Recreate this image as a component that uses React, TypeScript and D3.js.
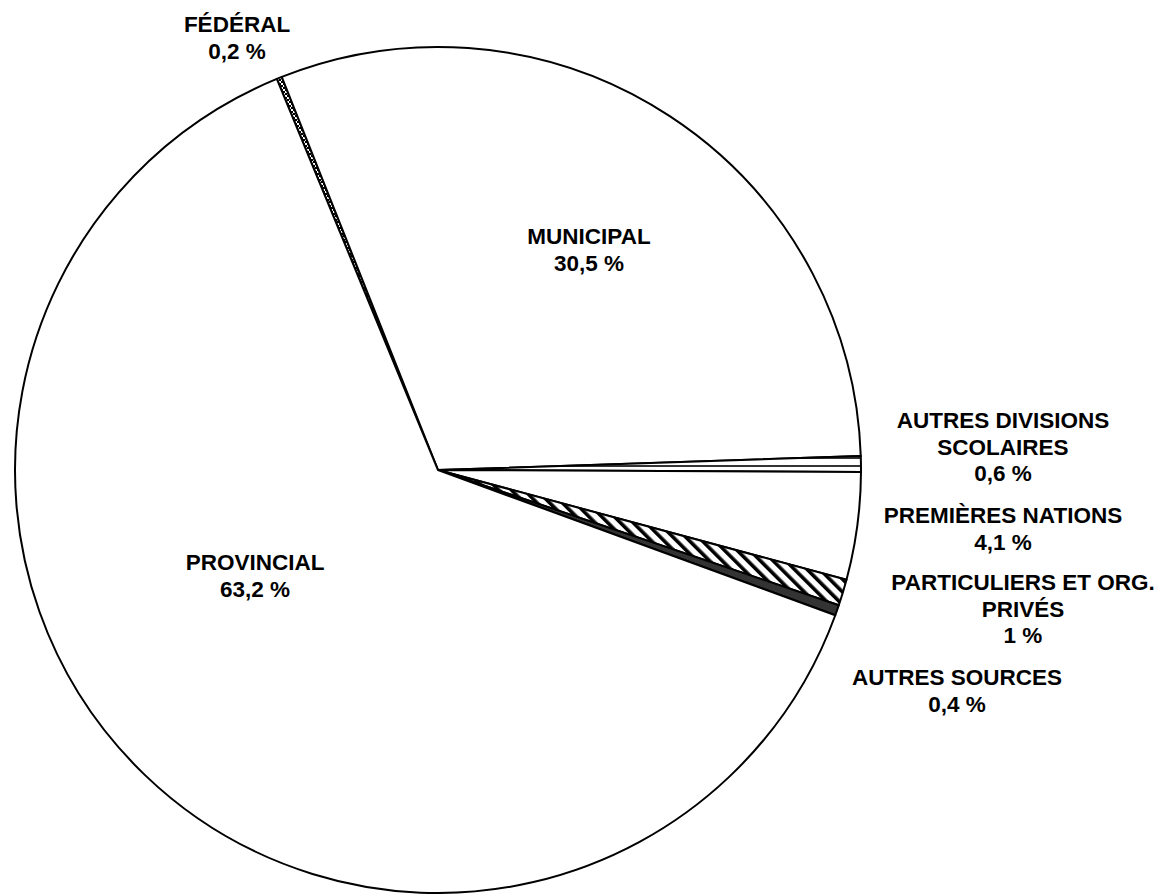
import React from "react";
import * as d3 from "d3";

const categories = [
  "FÉDÉRAL",
  "MUNICIPAL",
  "AUTRES DIVISIONS SCOLAIRES",
  "PREMIÈRES NATIONS",
  "PARTICULIERS ET ORG. PRIVÉS",
  "AUTRES SOURCES",
  "PROVINCIAL",
];
const values = [0.2, 30.5, 0.6, 4.1, 1, 0.4, 63.2];
const valueLabels = ["0,2 %", "30,5 %", "0,6 %", "4,1 %", "1 %", "0,4 %", "63,2 %"];
const labelLines = [
  ["FÉDÉRAL"],
  ["MUNICIPAL"],
  ["AUTRES DIVISIONS", "SCOLAIRES"],
  ["PREMIÈRES NATIONS"],
  ["PARTICULIERS ET ORG.", "PRIVÉS"],
  ["AUTRES SOURCES"],
  ["PROVINCIAL"],
];

// layout (not data)
const W = 1166;
const H = 894;
const CX = 438;
const CY = 470;
const R = 423;
const START_DEG = -22.4;
const FILLS = [
  "url(#pFed)",
  "#ffffff",
  "url(#pHoriz)",
  "#ffffff",
  "url(#pDiag)",
  "#333333",
  "#ffffff",
];
const LABEL_OFFSETS: [number, number][] = [
  [-201, -438],
  [151, -226],
  [565, -42],
  [565, 53],
  [585, 120],
  [519, 215],
  [-183, 100],
];
const LINE_H = 26.5;
const FONT = 22.5;

export default function App() {
  const start = (START_DEG * Math.PI) / 180;
  const pie = d3
    .pie<number>()
    .sort(null)
    .value((d) => d)
    .startAngle(start)
    .endAngle(start + 2 * Math.PI);
  const arcs = pie(values);
  const arc = d3.arc<d3.PieArcDatum<number>>().innerRadius(0).outerRadius(R);

  return (
    <svg
      width={W}
      height={H}
      style={{ position: "absolute", left: 0, top: 0, background: "#fff" }}
    >
      <defs>
        <pattern id="pFed" width="4" height="4" patternUnits="userSpaceOnUse">
          <rect width="4" height="4" fill="#fff" />
          <path d="M0,0 L4,4 M4,0 L0,4" stroke="#000" strokeWidth="1" />
        </pattern>
        <pattern id="pHoriz" width="8" height="8" patternUnits="userSpaceOnUse">
          <rect width="8" height="8" fill="#fff" />
          <line x1="0" y1="4" x2="8" y2="4" stroke="#000" strokeWidth="1.6" />
        </pattern>
        <pattern
          id="pDiag"
          width="9"
          height="9"
          patternUnits="userSpaceOnUse"
          patternTransform="rotate(-45)"
        >
          <rect width="9" height="9" fill="#fff" />
          <rect x="0" y="0" width="3.6" height="9" fill="#000" />
        </pattern>
      </defs>
      <g transform={`translate(${CX},${CY})`}>
        {arcs.map((a, i) => (
          <path
            key={categories[i]}
            d={arc(a) || ""}
            fill={FILLS[i]}
            stroke="#000"
            strokeWidth={2}
            strokeLinejoin="round"
          />
        ))}
        {arcs.map((a, i) => {
          const [dx, dy] = LABEL_OFFSETS[i];
          const lines = [...labelLines[i], valueLabels[i]];
          return (
            <text
              key={"l" + categories[i]}
              x={dx}
              y={dy}
              textAnchor="middle"
              fontFamily="'Liberation Sans', Arial, sans-serif"
              fontWeight="bold"
              fontSize={FONT}
              fill="#000"
            >
              {lines.map((t, j) => (
                <tspan key={j} x={dx} y={dy + j * LINE_H}>
                  {t}
                </tspan>
              ))}
            </text>
          );
        })}
      </g>
    </svg>
  );
}
